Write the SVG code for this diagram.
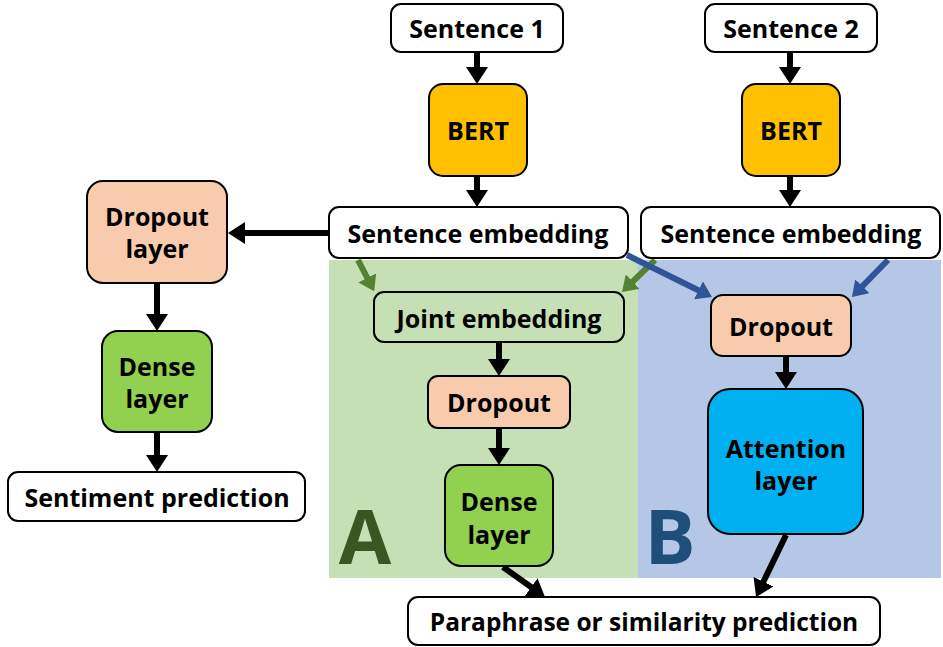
<svg xmlns="http://www.w3.org/2000/svg" width="943" height="647" viewBox="0 0 943 647">
<style>
.n{stroke:#000;stroke-width:2}
.w{fill:#fff}
.y{fill:#FFC000}
.o{fill:#F8CBAD}
.g{fill:#92D050}
.lg{fill:#C5E0B4}
.c{fill:#00B0F0}
text{font-family:"Open Sans","Liberation Sans",sans-serif;font-weight:bold;font-size:25px;text-anchor:middle;fill:#000}
.big{font-size:76px}
.k{stroke:#000;stroke-width:6;fill:none;marker-end:url(#ak)}
.gr{stroke:#548235;stroke-width:6;fill:none;marker-end:url(#ag)}
.bl{stroke:#2F5597;stroke-width:6;fill:none;marker-end:url(#ab)}
</style>
<defs>
<marker id="ak" markerUnits="userSpaceOnUse" viewBox="0 0 17 22" markerWidth="17" markerHeight="22" refX="2" refY="11" orient="auto"><path d="M0,0 L17,11 L0,22 z" fill="#000"/></marker>
<marker id="ag" markerUnits="userSpaceOnUse" viewBox="0 0 15 20" markerWidth="15" markerHeight="20" refX="2" refY="10" orient="auto"><path d="M0,0 L15,10 L0,20 z" fill="#548235"/></marker>
<marker id="ab" markerUnits="userSpaceOnUse" viewBox="0 0 15 20" markerWidth="15" markerHeight="20" refX="2" refY="10" orient="auto"><path d="M0,0 L15,10 L0,20 z" fill="#2F5597"/></marker>
</defs>
<rect width="943" height="647" fill="#fff"/>
<g id="regionA"><rect x="329" y="260" width="309" height="318" fill="#C5E0B4"/><text class="big" x="365" y="564" style="fill:#385723">A</text></g>
<g id="regionB"><rect x="638" y="260" width="303" height="318" fill="#B4C7E7"/><text class="big" x="670" y="564" style="fill:#1F4E79">B</text></g>

<g id="connectors">
<path class="k" d="M477,52 V69"/>
<path class="k" d="M477,176 V192"/>
<path class="k" d="M790,52 V69"/>
<path class="k" d="M790,176 V192"/>
<path class="k" d="M329,233 H243"/>
<path class="k" d="M157,283 V316"/>
<path class="k" d="M157,432 V457"/>
<path class="k" d="M499,342 V361"/>
<path class="k" d="M499,428 V450"/>
<path class="k" d="M503,567 L532.8,588.3"/>
<path class="k" d="M786,535 L762.6,583.5"/>
<path class="k" d="M786,356 V374"/>
<path class="gr" d="M358,260 L368.2,279.6"/>
<path class="gr" d="M655,260 L631.3,283"/>
<path class="bl" d="M627,255 L700.3,291.2"/>
<path class="bl" d="M888,260 L861,287.7"/>
</g>

<g id="sentence1"><rect class="n w" x="391" y="4" width="172" height="48" rx="10"/><text x="477" y="38">Sentence 1</text></g>
<g id="sentence2"><rect class="n w" x="705" y="4" width="172" height="48" rx="10"/><text x="791" y="38">Sentence 2</text></g>
<g id="bert1"><rect class="n y" x="429" y="84" width="98" height="92" rx="14"/><text x="478" y="140">BERT</text></g>
<g id="bert2"><rect class="n y" x="742" y="84" width="98" height="92" rx="14"/><text x="791" y="140">BERT</text></g>
<g id="embedding1"><rect class="n w" x="329" y="207" width="299" height="51" rx="10"/><text x="478" y="243">Sentence embedding</text></g>
<g id="embedding2"><rect class="n w" x="641" y="207" width="299" height="51" rx="10"/><text x="791" y="243">Sentence embedding</text></g>
<g id="dropoutLayer"><rect class="n o" x="87" y="181" width="140" height="102" rx="16"/><text x="157" y="226">Dropout</text><text x="157" y="258">layer</text></g>
<g id="denseLayer"><rect class="n g" x="102" y="331" width="110" height="101" rx="16"/><text x="157" y="376">Dense</text><text x="157" y="408">layer</text></g>
<g id="sentiment"><rect class="n w" x="8" y="472" width="297" height="49" rx="10"/><text x="157" y="507">Sentiment prediction</text></g>
<g id="joint"><rect class="n lg" x="374" y="292" width="250" height="50" rx="10"/><text x="499" y="328">Joint embedding</text></g>
<g id="dropoutA"><rect class="n o" x="428" y="376" width="142" height="52" rx="10"/><text x="499" y="412">Dropout</text></g>
<g id="denseA"><rect class="n g" x="445" y="465" width="108" height="101" rx="16"/><text x="499" y="511">Dense</text><text x="499" y="544">layer</text></g>
<g id="dropoutB"><rect class="n o" x="711" y="295" width="140" height="61" rx="12"/><text x="781" y="336">Dropout</text></g>
<g id="attention"><rect class="n c" x="708" y="389" width="155" height="145" rx="22"/><text x="786" y="458">Attention</text><text x="786" y="490">layer</text></g>
<g id="paraphrase"><rect class="n w" x="408" y="597" width="472" height="48" rx="10"/><text x="644" y="631" style="font-size:24.5px">Paraphrase or similarity prediction</text></g>
</svg>
